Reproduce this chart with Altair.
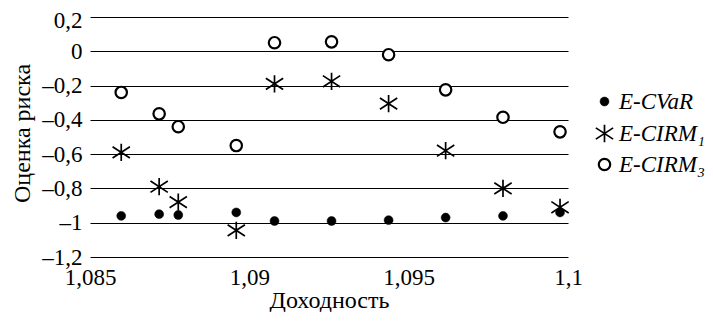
import altair as alt
import pandas as pd

# Data
x_vals = [1.08598, 1.08717, 1.08777, 1.08959, 1.09079, 1.09258, 1.09437, 1.09616, 1.09796, 1.09975]
cvar = [-0.96, -0.95, -0.955, -0.94, -0.99, -0.99, -0.985, -0.97, -0.96, -0.94]
cirm1 = [-0.59, -0.79, -0.88, -1.045, -0.19, -0.175, -0.305, -0.58, -0.80, -0.91]
cirm3 = [-0.24, -0.365, -0.44, -0.55, 0.05, 0.055, -0.02, -0.225, -0.385, -0.47]
series = ["E-CVaR", "E-CIRM₁", "E-CIRM₃"]
y_ticks = [-1.2, -1.0, -0.8, -0.6, -0.4, -0.2, 0.0, 0.2]
x_ticks = [1.085, 1.09, 1.095, 1.1]

rows = []
for name, vals in zip(series, [cvar, cirm1, cirm3]):
    for xv, yv in zip(x_vals, vals):
        rows.append({"x": xv, "y": yv, "series": name})
df = pd.DataFrame(rows)

STAR = "M0,-1L0,1M-1,-0.65L1,0.65M-1,0.65L1,-0.65"
FONT = "Liberation Serif"

leg = alt.Legend(title=None, orient="none", legendX=503, legendY=73,
                 labelFontSize=23, labelFontStyle="italic",
                 labelColor="black", rowPadding=7, labelOffset=3, padding=0)

chart = alt.Chart(df).mark_point(opacity=1, filled=False).encode(
    x=alt.X("x:Q", scale=alt.Scale(domain=[1.085, 1.1], nice=False, zero=False),
            axis=alt.Axis(values=x_ticks, title="Доходность", grid=False, domain=False,
                          ticks=False, labelFontSize=23, labelColor="black",
                          labelPadding=9, labelFlush=False, labelOverlap=False,
                          labelExpr="replace(format(datum.value, '.4~f'), '.', ',')",
                          titleFontSize=24, titleFontWeight="normal",
                          titleColor="black", titleY=50, titleBaseline="alphabetic")),
    y=alt.Y("y:Q", scale=alt.Scale(domain=[-1.2, 0.2], nice=False, zero=False),
            axis=alt.Axis(values=y_ticks, title="Оценка риска", grid=True, gridColor="black",
                          gridWidth=1, domain=False, ticks=False,
                          labelFontSize=23, labelColor="black", labelPadding=8,
                          labelOffset={"condition": {"test": "datum.value > 0.1", "value": 3},
                                       "value": 0},
                          labelExpr="(datum.value < -1e-9 ? '–' : '') + replace(format(abs(datum.value), '.1~f'), '.', ',')",
                          titleFontSize=24, titleFontWeight="normal", titleColor="black",
                          titleX=-61, titleY=116, titleAngle=270, titleAlign="center",
                          titleBaseline="alphabetic")),
    shape=alt.Shape("series:N", scale=alt.Scale(domain=series, range=["circle", STAR, "circle"]), legend=leg),
    fill=alt.Fill("series:N", scale=alt.Scale(domain=series, range=["black", "black", "white"]), legend=leg),
    stroke=alt.Stroke("series:N", scale=alt.Scale(domain=series, range=["black", "black", "black"]), legend=leg),
    size=alt.Size("series:N", scale=alt.Scale(type="ordinal", domain=series, range=[80, 300, 130]), legend=leg),
    strokeWidth=alt.StrokeWidth("series:N", scale=alt.Scale(type="ordinal", domain=series, range=[0.5, 1.7, 2.2]), legend=leg),
).properties(
    width=478, height=240,
    autosize=alt.AutoSizeParams(type="none"),
    padding={"left": 82, "top": 9, "right": 137, "bottom": 55},
).configure(
    font=FONT, background="white"
).configure_axis(
    labelFont=FONT, titleFont=FONT
).configure_legend(
    labelFont=FONT
).configure_view(stroke=None)

chart.save("out.html", embed_options={"renderer": "svg", "actions": False})
